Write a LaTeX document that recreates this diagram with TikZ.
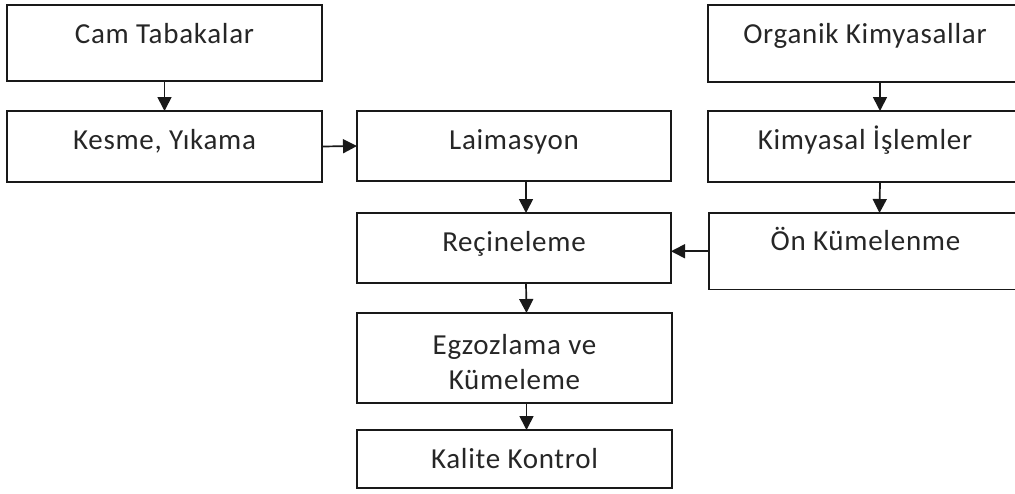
\documentclass[tikz,border=0pt]{standalone}
\usepackage{fontspec}
\setmainfont[LetterSpace=2.5]{Carlito}
\usetikzlibrary{arrows.meta}
\begin{document}
\begin{tikzpicture}[x=1pt,y=-1pt,
  box/.style={draw=black!90, line width=1.7pt, inner xsep=0pt, inner ysep=0pt, outer sep=0pt,
    anchor=north west, font=\fontsize{29}{35}\selectfont, text=black!85, text height=38pt},
  arr/.style={draw=black!90, line width=1.7pt, -{Triangle[length=14pt,width=14pt]}}]
\useasboundingbox (0,0) rectangle (1015,493);
\clip (0,0) rectangle (1015,493);
\node[box, minimum width=315pt, text depth=38pt] (cam) at (7,5) {Cam Tabakalar};
\node[box, minimum width=315pt, text depth=33pt] (kes) at (7,111) {Kesme, Yıkama};
\node[box, minimum width=314pt, text depth=32pt] (lam) at (357,111) {Laimasyon};
\node[box, minimum width=314pt, text depth=39pt] (org) at (708,5) {Organik Kimyasallar};
\node[box, minimum width=314pt, text depth=33pt] (kim) at (708,111) {Kimyasal İşlemler};
\node[box, minimum width=313pt, text depth=39pt, text height=37.5pt] (on) at (709,213) {Ön Kümelenme};
\node[box, minimum width=314pt, text depth=32pt] (rec) at (357,213) {Reçineleme};
\node[box, minimum width=315pt, text height=41pt, text depth=49pt] (egz) at (357,313)
  {\begin{tabular}[t]{@{}c@{}}Egzozlama ve\\Kümeleme\end{tabular}};
\node[box, minimum width=315pt, text depth=20pt] (kal) at (357,430) {Kalite Kontrol};
\draw[arr] (cam.south) -- (kes.north);
\draw[arr] (kes.east) -- (lam.west);
\draw[arr] ([xshift=12pt]lam.south) -- ([xshift=12pt]rec.north);
\draw[arr] ([xshift=15pt]org.south) -- ([xshift=15pt]kim.north);
\draw[arr] ([xshift=15pt]kim.south) -- ([xshift=14pt]on.north);
\draw[arr] (on.west) -- (on.west -| rec.east);
\draw[arr] ([xshift=12pt]rec.south) -- ([xshift=12pt]egz.north);
\draw[arr] ([xshift=12pt]egz.south) -- ([xshift=12pt]kal.north);
\end{tikzpicture}
\end{document}
